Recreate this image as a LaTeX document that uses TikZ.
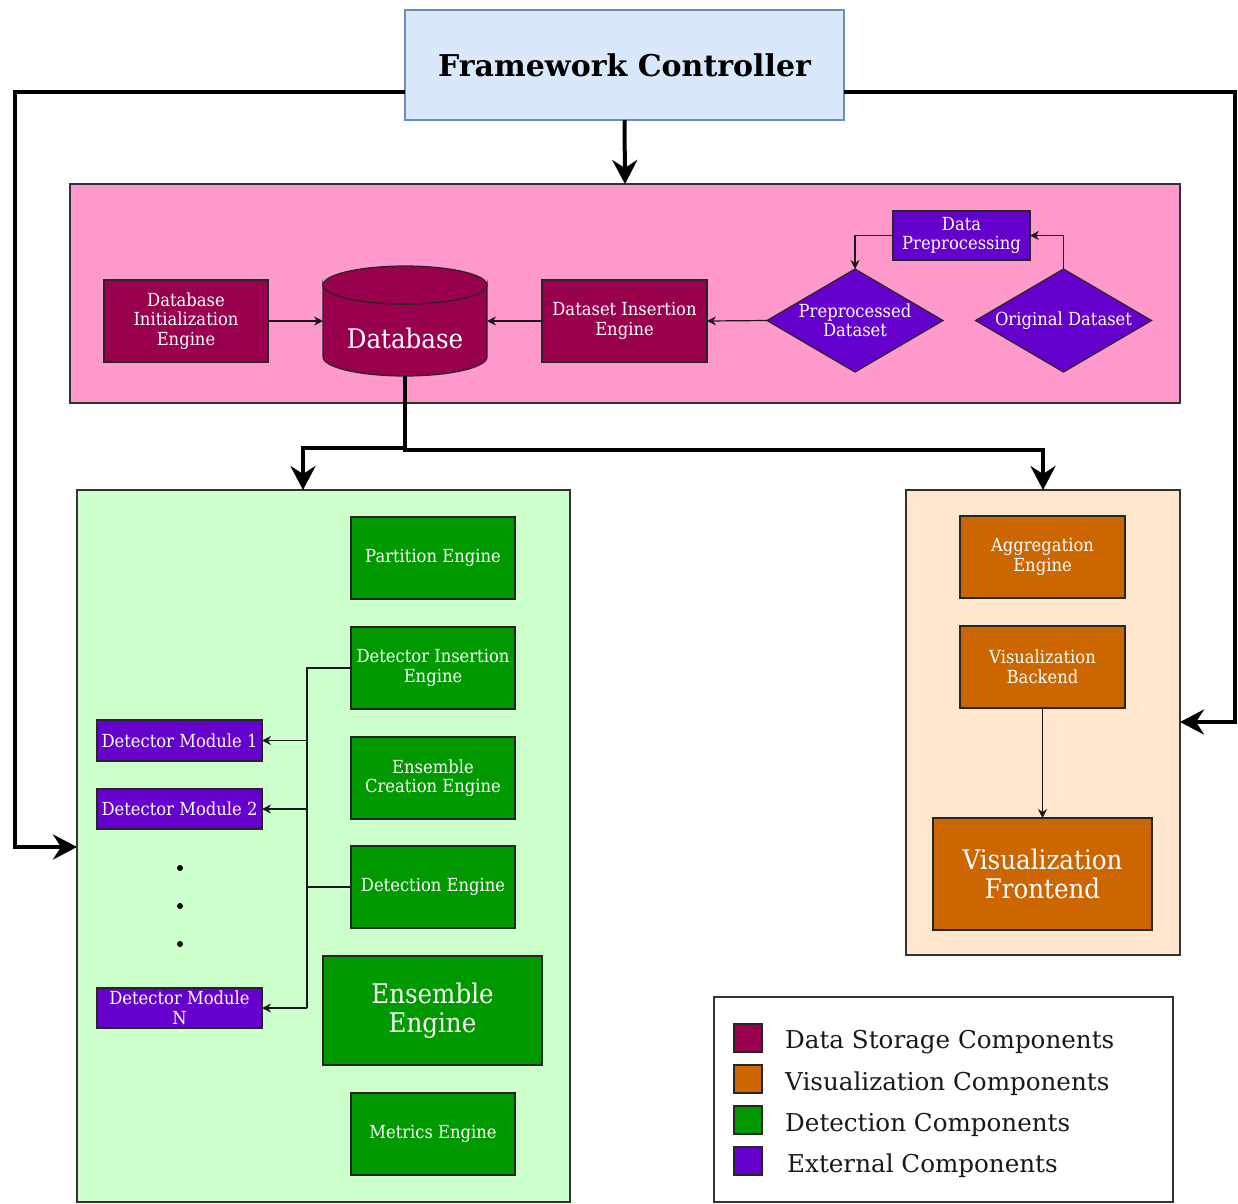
\documentclass[tikz,border=0pt]{standalone}
\usepackage{fontspec}
\setmainfont{DejaVu Serif}
\newfontfamily\condfont{DejaVu Serif}[FakeStretch=0.91]
\usetikzlibrary{arrows.meta, shapes.geometric}

\definecolor{storagered}{HTML}{99004D}
\definecolor{vizorange}{HTML}{CC6600}
\definecolor{detgreen}{HTML}{009900}
\definecolor{extpurple}{HTML}{6600CC}
\definecolor{pinkbg}{HTML}{FF99CC}
\definecolor{greenbg}{HTML}{CCFFCC}
\definecolor{orangebg}{HTML}{FFE6CC}
\definecolor{ctrlfill}{HTML}{DAE8FC}
\definecolor{ctrlline}{HTML}{6C8EBF}
\definecolor{edge}{HTML}{333333}

\tikzset{
  area/.style={draw=edge, line width=1.1pt, inner sep=0pt, outer sep=0pt},
  comp/.style={draw=black!85, line width=1.2pt, inner sep=1pt, outer sep=0pt,
    align=center, text=white, font=\condfont\fontsize{18}{19.5}\selectfont,
    minimum width=164pt, minimum height=82pt},
  bigcomp/.style={comp, font=\condfont\fontsize{27}{29}\selectfont,
    minimum width=219pt},
  storage/.style={comp, fill=storagered},
  viz/.style={comp, fill=vizorange},
  det/.style={comp, fill=detgreen},
  ext/.style={comp, fill=extpurple},
  extdiamond/.style={diamond, draw=black!85, line width=1.2pt, fill=extpurple,
    inner sep=0pt, outer sep=0pt, aspect=1.7, align=center, text=white,
    font=\condfont\fontsize{18}{19.5}\selectfont,
    minimum width=176pt, minimum height=103pt},
  flow/.style={line width=4pt, -{Stealth[length=24pt, width=25pt, inset=8pt]}},
  link/.style={draw=black!90, line width=1.2pt},
  linkarrow/.style={link, -{Stealth[length=9pt, width=9pt, inset=3pt]}},
  swatch/.style={draw=black!85, line width=1.2pt, minimum size=28pt,
    inner sep=0pt, outer sep=0pt},
  legendtext/.style={anchor=west, inner sep=0pt, font=\fontsize{24.6}{28}\selectfont, text=black!90}
}

\begin{document}
\begin{tikzpicture}[x=1pt, y=-1pt]
\useasboundingbox (0,0) rectangle (1238,1203);
\fill[white] (0,0) rectangle (1238,1203);

% controller
\node[draw=ctrlline, fill=ctrlfill, line width=1.1pt, minimum width=439pt,
      minimum height=110pt, inner sep=0pt, outer sep=0pt,
      font=\bfseries\fontsize{30}{34}\selectfont] (ctrl) at (624.5,65) {Framework Controller};

% group areas
\node[area, fill=pinkbg, minimum width=1110pt, minimum height=219pt] (pinkarea) at (625,293.5) {};
\node[area, fill=greenbg, minimum width=493pt, minimum height=712pt] (greenarea) at (323.5,846) {};
\node[area, fill=orangebg, minimum width=274pt, minimum height=465pt] (orangearea) at (1043,722.5) {};

% data storage
\node[storage] (dbinit) at (186,321) {Database\\Initialization\\Engine};
\node[storage, minimum width=165pt] (dsins) at (624.5,321) {Dataset Insertion\\Engine};

% database cylinder
\node[minimum width=164pt, minimum height=110pt, inner sep=0pt, outer sep=0pt] (db) at (405,321) {};
\path[draw=black!85, line width=1.2pt, fill=storagered]
  (323,285) -- (323,357) arc[start angle=180, end angle=0, x radius=82, y radius=19]
  -- (487,285) arc[start angle=0, end angle=180, x radius=82, y radius=19] -- cycle;
\draw[black!85, line width=1.2pt, fill=storagered]
  (405,285) ellipse[x radius=82, y radius=19];
\node[text=white, font=\condfont\fontsize{27}{29}\selectfont] (dblabel) at (405,338) {Database};

% external inputs
\node[extdiamond] (prep) at (855,320.5) {Preprocessed\\Dataset};
\node[extdiamond] (orig) at (1063.5,320.5) {Original Dataset};
\node[ext, minimum width=137pt, minimum height=49pt] (dataprep) at (961.5,235.5) {Data\\Preprocessing};

% detection
\node[det] (partition) at (433,558) {Partition Engine};
\node[det] (detins) at (433,668) {Detector Insertion\\Engine};
\node[det] (enscreate) at (433,778) {Ensemble\\Creation Engine};
\node[det] (detect) at (433,887) {Detection Engine};
\node[bigcomp, fill=detgreen, minimum height=109pt] (ensemble) at (432.5,1010.5) {Ensemble\\Engine};
\node[det] (metrics) at (433,1134) {Metrics Engine};

\node[ext, minimum width=165pt, minimum height=41pt] (dm1) at (179.5,740.5) {Detector Module 1};
\node[ext, minimum width=165pt, minimum height=40pt] (dm2) at (179.5,809) {Detector Module 2};
\node[ext, minimum width=165pt, minimum height=40pt] (dmn) at (179.5,1008) {Detector Module\\N};
\foreach \yy in {868, 906, 944}
  \fill (180,\yy) circle[radius=3pt];

% visualization
\node[viz, minimum width=165pt] (agg) at (1042.5,557) {Aggregation\\Engine};
\node[viz, minimum width=165pt] (vizback) at (1042.5,667) {Visualization\\Backend};
\node[bigcomp, fill=vizorange, minimum height=112pt] (vizfront) at (1042.5,874) {Visualization\\Frontend};

% main flows
\draw[flow] (ctrl.south) -- (pinkarea.north);
\draw[flow] (ctrl.west |- 0,92) -| (15,847) -- (greenarea.west |- 0,847);
\draw[flow] (ctrl.east |- 0,92) -| (1235,722) -- (orangearea.east |- 0,722);
\draw[flow] (db.south) |- (303,448) -- (greenarea.north -| 303,0);
\draw[flow] (db.south) |- (orangearea.north |- 0,450) -- (orangearea.north);

% storage links
\draw[linkarrow] (dbinit.east) -- (db.west);
\draw[linkarrow] (dsins.west) -- (db.east);
\draw[linkarrow] (prep.west) -- (dsins.east);
\draw[linkarrow] (orig.north) |- (dataprep.east);
\draw[linkarrow] (dataprep.west) -| (prep.north);

% detector bus
\coordinate (bus) at (307,668);
\draw[link] (detins.west) -- (bus) -- (bus |- dmn.east);
\draw[link] (detect.west) -- (bus |- detect.west);
\draw[linkarrow] (bus |- dm1.east) -- (dm1.east);
\draw[linkarrow] (bus |- dm2.east) -- (dm2.east);
\draw[linkarrow] (bus |- dmn.east) -- (dmn.east);

% visualization link
\draw[linkarrow] (vizback.south) -- (vizfront.north);

% legend
\node[area, fill=white, minimum width=459pt, minimum height=205pt] (legend) at (943.5,1099.5) {};
\node[swatch, fill=storagered] (sw1) at (748,1038) {};
\node[swatch, fill=vizorange] (sw2) at (748,1079) {};
\node[swatch, fill=detgreen] (sw3) at (748,1120) {};
\node[swatch, fill=extpurple] (sw4) at (748,1161) {};
\node[legendtext] (lg1) at (785,1042.5) {Data Storage Components};
\node[legendtext] (lg2) at (785,1083.5) {Visualization Components};
\node[legendtext] (lg3) at (785,1124.5) {Detection Components};
\node[legendtext] (lg4) at (787,1165.5) {External Components};
\end{tikzpicture}
\end{document}
